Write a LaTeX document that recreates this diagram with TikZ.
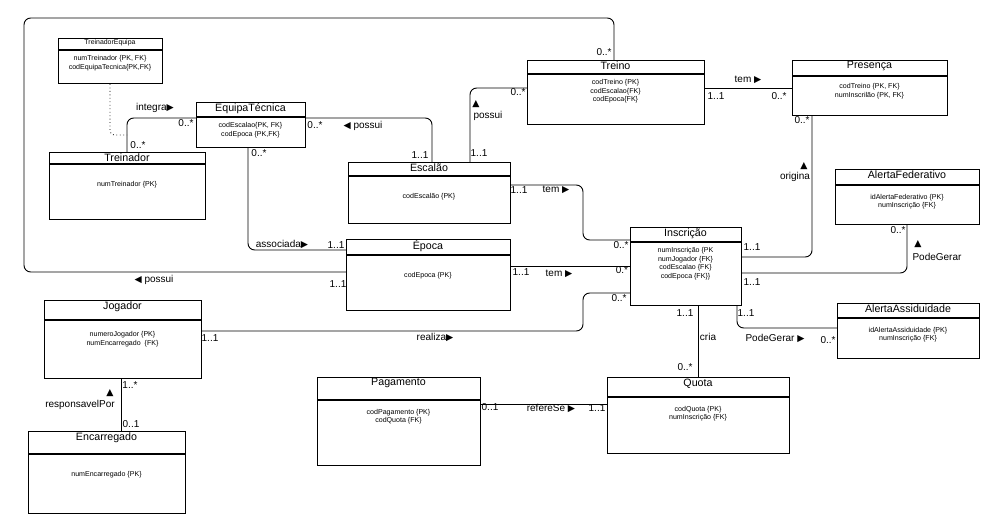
\documentclass[tikz,border=0pt]{standalone}
\usepackage{fontspec}
\setmainfont{Liberation Sans}
\newfontfamily\dv{DejaVu Sans}
\newcommand{\Rt}{{\dv\scriptsize ▶}}
\newcommand{\Lt}{{\dv\scriptsize ◀}}
\newcommand{\Ut}{{\dv\scriptsize ▲}}
\newcommand{\B}[1]{\{#1\}}
\newcommand{\E}{\mbox{}\\[6pt]}
\tikzset{
  ent/.style={draw,line width=0.8pt,anchor=north west,inner sep=0},
  ttl/.style={font=\fontsize{8}{9}\selectfont,anchor=north,inner sep=1pt},
  att/.style={font=\fontsize{5.3}{6.6}\selectfont,align=center,anchor=north,inner sep=0},
  lab/.style={font=\fontsize{7.5}{8}\selectfont,inner sep=0},
  con/.style={line width=0.7pt,rounded corners=5pt},
}
\newcommand{\ent}[9]{%
  \node[ent,minimum width={(#4-#2)*0.75pt},minimum height={(#5-#3)*0.75pt}] (#1) at (#2,#3) {};
  \draw[line width=0.8pt] (#2,#6) -- (#4,#6);
  \node[ttl,#9] at ({(#2+#4)/2},#3) {#7};
  \node[att] at ({(#2+#4)/2},{#6+5}) {#8};
}
\begin{document}
\begin{tikzpicture}[x=0.75pt,y=-0.75pt]
\useasboundingbox (0,0) rectangle (1006,531);
\ent{te}{58}{38}{162}{83}{50}{TreinadorEquipa}{numTreinador \B{PK, FK}\\codEquipaTecnica\B{PK,FK}}{font=\fontsize{5.2}{6}\selectfont}
\ent{eq}{196}{102}{305}{147}{117}{EquipaTécnica}{codEscalao\B{PK, FK}\\codEpoca \B{PK,FK}}{}
\ent{tr}{49}{152}{205}{219}{164}{Treinador}{\E numTreinador \B{PK}}{}
\ent{es}{348}{162}{510}{223}{176}{Escalão}{\E codEscalão \B{PK}}{}
\ent{ep}{346}{239}{510}{310}{255}{Época}{\E codEpoca \B{PK}}{}
\ent{tn}{527}{60}{704}{124}{74}{Treino}{codTreino \B{PK}\\codEscalao\B{FK}\\codEpoca\B{FK}}{}
\ent{pr}{792}{60}{947}{115}{76}{Presença}{\mbox{}\\[-1pt]codTreino \B{PK, FK}\\numInscrilão \B{PK, FK}}{}
\ent{ins}{630}{227}{741}{305}{242}{Inscrição}{numInscrição \{PK\\numJogador \B{FK}\\codEscalao \B{FK}\\codEpoca \B{FK}\}}{}
\ent{af}{835}{169}{979}{224}{185}{AlertaFederativo}{\\idAlertaFederativo \B{PK}\\numInscrição \B{FK}}{}
\ent{aa}{837}{303}{979}{358}{318}{AlertaAssiduidade}{\\idAlertaAssiduidade \B{PK}\\numInscrição \B{FK}}{}
\ent{jo}{44}{300}{201}{378}{320}{Jogador}{\mbox{}\\[2pt]numeroJogador \B{PK}\\numEncarregado\ \ \B{FK}}{}
\ent{en}{28}{431}{185}{513}{454}{Encarregado}{\\\\numEncarregado \B{PK}}{}
\ent{pa}{317}{377}{480}{465}{400}{Pagamento}{\\codPagamento \B{PK}\\codQuota \B{FK}}{}
\ent{qu}{607}{377}{789}{453}{397}{Quota}{\\codQuota \B{PK}\\numInscrição \B{FK}}{}
% connectors
\draw[con] (ep.west|-0,272) -- (24,272) -- (24,18) -- (614,18) -- (tn.north-|614,0);
\draw[line width=0.6pt,dotted,rounded corners=3pt] (te.south-|110,0) -- (110,135) -- (127,135);
\draw[con] (tr.north-|127,0) -- (127,118) -- (eq.west|-0,118);
\draw[con] (eq.east|-0,118) -- (432,118) -- (es.north-|432,0);
\draw[con] (eq.south-|248,0) -- (248,250) -- (ep.west|-0,250);
\draw[con] (es.north-|470,0) -- (470,88) -- (tn.west|-0,88);
\draw[con] (es.east|-0,185) -- (583,185) -- (583,240) -- (ins.west|-0,240);
\draw[con] (ep.east|-0,266) -- (ins.west|-0,266);
\draw[con] (jo.east|-0,331) -- (583,331) -- (583,293) -- (ins.west|-0,293);
\draw[con] (tn.east|-0,88) -- (pr.west|-0,88);
\draw[con] (pr.south-|812,0) -- (812,257) -- (ins.east|-0,257);
\draw[con] (ins.east|-0,273) -- (907,273) -- (af.south-|907,0);
\draw[con] (ins.south-|737,0) -- (737,328) -- (aa.west|-0,328);
\draw[con] (ins.south-|698,0) -- (qu.north-|698,0);
\draw[con] (pa.east|-0,404) -- (qu.west|-0,404);
\draw[con] (jo.south-|121,0) -- (en.north-|121,0);
% labels
\node[lab] at (604,52) {0..*};
\node[lab] at (338,284) {1..1};
\node[lab] at (155,108) {integra\Rt};
\node[lab] at (186,123) {0..*};
\node[lab] at (138,145) {0..*};
\node[lab] at (315,125) {0..*};
\node[lab] at (363,126) {\Lt\ possui};
\node[lab] at (420,155) {1..1};
\node[lab] at (282,244) {associada\Rt};
\node[lab] at (336,245) {1..1};
\node[lab] at (259,153) {0..*};
\node[lab] at (476,104) {\Ut};
\node[lab] at (488,116) {possui};
\node[lab] at (479,153) {1..1};
\node[lab] at (518,92) {0..*};
\node[lab] at (519,190) {1..1};
\node[lab] at (556,190) {tem \Rt};
\node[lab] at (621,245) {0..*};
\node[lab] at (521,272) {1..1};
\node[lab] at (559,274) {tem \Rt};
\node[lab] at (622,270) {0.*};
\node[lab] at (154,280) {\Lt\ possui};
\node[lab] at (210,338) {1..1};
\node[lab] at (435,337) {realiza\Rt};
\node[lab] at (619,298) {0..*};
\node[lab] at (748,80) {tem \Rt};
\node[lab] at (716,96) {1..1};
\node[lab] at (779,96) {0..*};
\node[lab] at (802,120) {0..*};
\node[lab] at (804,166) {\Ut};
\node[lab] at (795,177) {origina};
\node[lab] at (752,247) {1..1};
\node[lab] at (752,282) {1..1};
\node[lab] at (898,230) {0..*};
\node[lab] at (918,244) {\Ut};
\node[lab] at (937,257) {PodeGerar};
\node[lab] at (746,313) {1..1};
\node[lab] at (775,338) {PodeGerar \Rt};
\node[lab] at (828,340) {0..*};
\node[lab] at (685,313) {1..1};
\node[lab] at (708,337) {cria};
\node[lab] at (685,367) {0..*};
\node[lab] at (490,407) {0..1};
\node[lab] at (551,408) {refereSe \Rt};
\node[lab] at (597,408) {1..1};
\node[lab] at (110,393) {\Ut};
\node[lab] at (80,405) {responsavelPor};
\node[lab] at (130,385) {1..*};
\node[lab] at (131,424) {0..1};
\end{tikzpicture}
\end{document}
